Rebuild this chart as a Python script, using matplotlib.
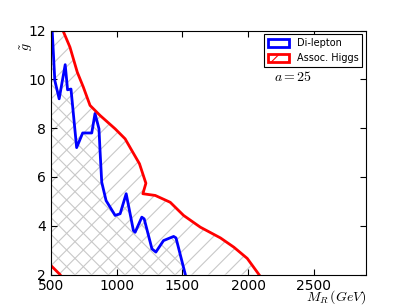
import matplotlib
matplotlib.use("Agg")
import matplotlib.pyplot as plt
from matplotlib.patches import Patch

plt.rcParams['mathtext.fontset'] = 'cm'
plt.rcParams['hatch.color'] = '#c8c8c8'
plt.rcParams['hatch.linewidth'] = 0.8

# Di-lepton exclusion boundary
dl_m = [510, 530, 563, 609, 627, 653, 696, 742, 811, 836, 866, 874, 887, 920,
        989, 1027, 1073, 1128, 1141, 1192, 1210, 1269, 1299, 1357, 1434, 1452, 1523]
dl_g = [12.0, 9.95, 9.2, 10.6, 9.57, 9.6, 7.2, 7.8, 7.8, 8.6, 7.97, 7.08, 5.78, 5.03,
        4.42, 4.49, 5.31, 3.8, 3.73, 4.35, 4.28, 3.05, 2.92, 3.39, 3.56, 3.5, 2.0]

# Associated Higgs exclusion boundary
ah_m = [594, 645, 701, 747, 798, 874, 989, 1065, 1116, 1174, 1223, 1200, 1294,
        1408, 1510, 1637, 1790, 1892, 1994, 2083]
ah_g = [11.97, 11.32, 10.29, 9.68, 8.93, 8.52, 7.97, 7.56, 7.08, 6.54, 5.74, 5.31, 5.24,
        4.96, 4.42, 3.94, 3.5, 3.12, 2.66, 2.0]

# lower-left corner boundary
corner_m = [500, 569]
corner_g = [2.37, 2.0]

fig = plt.figure(figsize=(4.07, 3.05), dpi=100)
ax = fig.add_axes([0.125, 0.1, 0.775, 0.8])

# hatched regions
poly_ah_x = [500] + ah_m + corner_m[::-1]
poly_ah_y = [12] + ah_g + corner_g[::-1]
ax.fill(poly_ah_x, poly_ah_y, facecolor='none', edgecolor='#c8c8c8', hatch='//', lw=0)
poly_dl_x = [500] + dl_m + corner_m[::-1]
poly_dl_y = [12] + dl_g + corner_g[::-1]
ax.fill(poly_dl_x, poly_dl_y, facecolor='none', edgecolor='#c8c8c8', hatch='\\\\', lw=0)

ax.plot(dl_m, dl_g, color='blue', lw=2)
ax.plot(ah_m, ah_g, color='red', lw=2)
ax.plot(corner_m, corner_g, color='red', lw=2)

ax.set_xlim(500, 2900)
ax.set_ylim(2, 12)
ax.set_xticks([500, 1000, 1500, 2000, 2500])
ax.set_yticks([2, 4, 6, 8, 10, 12])
ax.tick_params(direction='in', top=True, right=True, labelsize=10, length=4)

ax.set_xlabel(r'$M_R\,(GeV)$', fontsize=10, ha='right')
ax.xaxis.set_label_coords(1.0, -0.055)
ax.set_ylabel(r'$\tilde{g}$', fontsize=10, ha='right')
ax.yaxis.set_label_coords(-0.05, 0.95)

ax.text(2200, 9.95, r'$a=25$', fontsize=10)

handles = [Patch(facecolor='white', edgecolor='blue', lw=2, label='Di-lepton'),
           Patch(facecolor='white', edgecolor='red', lw=2, hatch='//', label='Assoc. Higgs')]
leg = ax.legend(handles=handles, loc='upper right', fontsize=7, fancybox=False,
                framealpha=1, edgecolor='black', borderaxespad=0.4,
                handlelength=2.2, handleheight=0.9)
leg.get_frame().set_linewidth(0.8)

fig.savefig('out.png', dpi=100)
